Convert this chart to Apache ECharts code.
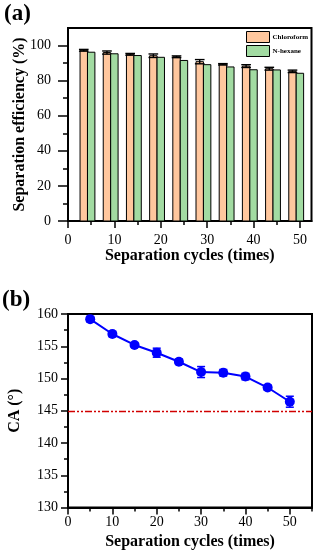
<!DOCTYPE html>
<html><head><meta charset="utf-8">
<script src="https://cdn.jsdelivr.net/npm/echarts@6/dist/echarts.min.js"></script>
<style>html,body{margin:0;padding:0;background:#fff}#c{width:316px;height:550px}</style>
</head><body><div id="c"></div>
<script>
// ---- data (panel a) ----
const cycles = [5, 10, 15, 20, 25, 30, 35, 40, 45, 50];
const chloroform = [97.3, 96.0, 95.0, 94.2, 93.6, 90.8, 89.3, 88.3, 86.8, 85.3];
const chloroformErr = [0.5, 0.9, 0.5, 1.0, 0.5, 1.2, 0.4, 0.8, 0.8, 0.7];
const nHexane = [96.2, 95.3, 94.3, 93.3, 91.5, 89.1, 87.8, 86.2, 86.1, 84.2];
const xTicksA = [0, 10, 20, 30, 40, 50];
const xMinorA = [5, 15, 25, 35, 45];
const yTicksA = [0, 20, 40, 60, 80, 100];
const yMinorA = [10, 30, 50, 70, 90];
// ---- data (panel b) ----
const ca = [159.2, 156.9, 155.2, 154.0, 152.6, 151.0, 150.9, 150.3, 148.6, 146.4];
const caErr = [0.4, 0.4, 0.3, 0.7, 0.4, 0.85, 0.5, 0.5, 0.4, 0.85];
const caThreshold = 145;
const xTicksB = [0, 10, 20, 30, 40, 50];
const xMinorB = [5, 15, 25, 35, 45, 55];
const yTicksB = [130, 135, 140, 145, 150, 155, 160];
const yMinorB = [132.5, 137.5, 142.5, 147.5, 152.5, 157.5];

const F = '"Liberation Serif", "Times New Roman", serif';
const BAR_W = 1.6;
const chart = echarts.init(document.getElementById('c'), null, {renderer: 'canvas'});

function barRender(offset, errs) {
  return function (params, api) {
    const x = api.value(0) + offset, y = api.value(1);
    const w = api.size([BAR_W, 0])[0];
    const p0 = api.coord([x, 0]);
    const p1 = api.coord([x, y]);
    const children = [{
      type: 'rect',
      shape: {x: p0[0] - w / 2, y: p1[1], width: w, height: p0[1] - p1[1]},
      style: {fill: api.visual('color'), stroke: '#000', lineWidth: 1}
    }];
    if (errs) {
      const e = errs[params.dataIndex];
      const pt = api.coord([x, y + e]);
      const pb = api.coord([x, y - e]);
      const cw = w * 0.65;
      const st = {stroke: '#000', lineWidth: 1.4};
      children.push({type: 'line', shape: {x1: pt[0], y1: pt[1], x2: pb[0], y2: pb[1]}, style: st});
      children.push({type: 'line', shape: {x1: pt[0] - cw, y1: pt[1], x2: pt[0] + cw, y2: pt[1]}, style: st});
      children.push({type: 'line', shape: {x1: pb[0] - cw, y1: pb[1], x2: pb[0] + cw, y2: pb[1]}, style: st});
    }
    return {type: 'group', children: children};
  };
}

function errRender(params, api) {
  const x = api.value(0), y = api.value(1), e = api.value(2);
  const pt = api.coord([x, y + e]);
  const pb = api.coord([x, y - e]);
  const cw = 4;
  const st = {stroke: '#0000ff', lineWidth: 1.5};
  return {type: 'group', children: [
    {type: 'line', shape: {x1: pt[0], y1: pt[1], x2: pb[0], y2: pb[1]}, style: st},
    {type: 'line', shape: {x1: pt[0] - cw, y1: pt[1], x2: pt[0] + cw, y2: pt[1]}, style: st},
    {type: 'line', shape: {x1: pb[0] - cw, y1: pb[1], x2: pb[0] + cw, y2: pb[1]}, style: st}
  ]};
}

const labelStyle = {color: '#000', fontFamily: F, fontSize: 14};
const nameStyle = {color: '#000', fontFamily: F, fontSize: 16, fontWeight: 'bold'};
const lineBlk = {color: '#000', width: 2};

function mainAxis(gi, min, max, ticks, len, margin, extra) {
  return Object.assign({
    type: 'value', gridIndex: gi, min: min, max: max,
    axisLine: {show: true, onZero: false, lineStyle: lineBlk},
    axisTick: {show: true, inside: false, length: len, customValues: ticks, lineStyle: {color: '#000', width: 1.5}},
    axisLabel: {show: true, margin: margin, customValues: ticks, ...labelStyle},
    splitLine: {show: false},
    nameLocation: 'middle', nameTextStyle: nameStyle
  }, extra);
}
function minorAxis(gi, min, max, ticks, len, pos) {
  return {
    type: 'value', gridIndex: gi, min: min, max: max, position: pos,
    axisLine: {show: false, onZero: false},
    axisTick: {show: true, inside: false, length: len, customValues: ticks, lineStyle: {color: '#000', width: 1.5}},
    axisLabel: {show: false}, splitLine: {show: false}
  };
}

const option = {
  animation: false,
  backgroundColor: '#fff',
  title: [
    {text: '(a)', left: 4, top: 3, padding: 0, textStyle: {fontFamily: F, fontWeight: 'bold', fontSize: 23, color: '#000'}},
    {text: '(b)', left: 2, top: 289, padding: 0, textStyle: {fontFamily: F, fontWeight: 'bold', fontSize: 23, color: '#000'}}
  ],
  legend: {
    data: ['Chloroform', 'N-hexane'], orient: 'vertical', left: 246, top: 31, padding: 0,
    itemWidth: 23, itemHeight: 11, itemGap: 2, icon: 'rect',
    itemStyle: {borderColor: '#000', borderWidth: 1},
    textStyle: {fontFamily: F, fontWeight: 'bold', fontSize: 7, color: '#000', padding: [0, 0, 0, -2]}
  },
  grid: [
    {left: 68, top: 28, width: 243.5, height: 193, show: true, borderColor: '#000', borderWidth: 2, backgroundColor: 'transparent', containLabel: false, outerBoundsMode: 'none'},
    {left: 68, top: 314, width: 244, height: 193.5, show: true, borderColor: '#000', borderWidth: 2, backgroundColor: 'transparent', containLabel: false, outerBoundsMode: 'none'}
  ],
  xAxis: [
    mainAxis(0, 0, 52.5, xTicksA, 7, 12, {name: 'Separation cycles (times)', nameGap: 26, position: 'bottom'}),
    minorAxis(0, 0, 52.5, xMinorA, 4, 'bottom'),
    mainAxis(1, 0, 55, xTicksB, 7, 8, {name: 'Separation cycles (times)', nameGap: 26, position: 'bottom'}),
    minorAxis(1, 0, 55, xMinorB, 4, 'bottom')
  ],
  yAxis: [
    mainAxis(0, 0, 110, yTicksA, 10, 17, {name: 'Separation efficiency (%)', nameGap: 40, nameMoveOverlap: false, nameRotate: 90, position: 'left'}),
    minorAxis(0, 0, 110, yMinorA, 5, 'left'),
    mainAxis(1, 130, 160, yTicksB, 7, 10, {name: 'CA (°)', nameGap: 45, nameMoveOverlap: false, nameRotate: 90, position: 'left'}),
    minorAxis(1, 130, 160, yMinorB, 4, 'left')
  ],
  series: [
    {
      name: 'Chloroform', type: 'custom', xAxisIndex: 0, yAxisIndex: 0,
      itemStyle: {color: '#FFC79E', borderColor: '#000', borderWidth: 1},
      renderItem: barRender(-BAR_W, chloroformErr), encode: {x: 0, y: 1},
      data: cycles.map((c, i) => [c, chloroform[i]])
    },
    {
      name: 'N-hexane', type: 'custom', xAxisIndex: 0, yAxisIndex: 0,
      itemStyle: {color: '#A2DBA2', borderColor: '#000', borderWidth: 1},
      renderItem: barRender(0, null), encode: {x: 0, y: 1},
      data: cycles.map((c, i) => [c, nHexane[i]])
    },
    {
      type: 'custom', xAxisIndex: 2, yAxisIndex: 2, z: 1,
      renderItem: errRender, encode: {x: 0, y: 1},
      data: cycles.map((c, i) => [c, ca[i], caErr[i]])
    },
    {
      type: 'line', xAxisIndex: 2, yAxisIndex: 2, z: 3,
      symbol: 'circle', symbolSize: 10,
      itemStyle: {color: '#0000ff'}, lineStyle: {color: '#0000ff', width: 2},
      data: cycles.map((c, i) => [c, ca[i]]),
      markLine: {
        silent: true, symbol: ['none', 'none'], label: {show: false},
        lineStyle: {color: '#d10000', width: 1.4, type: [7, 2, 2, 2, 2, 2]},
        data: [{yAxis: caThreshold}]
      }
    }
  ]
};
chart.setOption(option);
</script>
</body></html>
